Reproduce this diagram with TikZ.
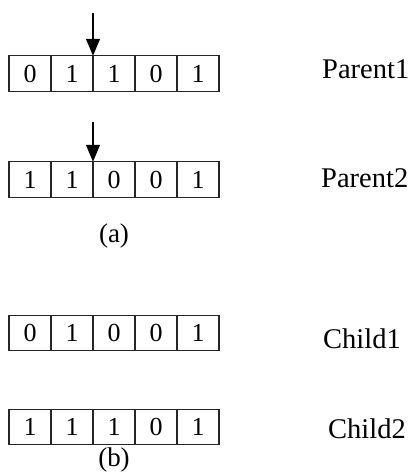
\documentclass[tikz,border=0pt]{standalone}
\usepackage{fontspec}
\setmainfont{Liberation Serif}
\usetikzlibrary{arrows.meta}
\begin{document}
\begin{tikzpicture}[x=1pt,y=-1pt,
  cell/.style={draw=black!85,line width=1.3pt,minimum width=42pt,minimum height=35.5pt,inner sep=0pt,outer sep=0pt,anchor=west,font=\fontsize{26}{30}\selectfont},
  lbl/.style={anchor=base west,inner sep=0pt,font=\fontsize{28.5}{32}\selectfont},
  captext/.style={anchor=base,inner sep=0pt,font=\fontsize{27}{32}\selectfont},
  cut/.style={line width=1.3pt,-{Triangle[length=17pt,width=14pt]}}]
\useasboundingbox (0,0) rectangle (410,475);
% row 1
\foreach \v [count=\i] in {0,1,1,0,1}
  \node[cell] (a\i) at ({9+(\i-1)*42},73.5) {\v};
% row 2
\foreach \v [count=\i] in {1,1,0,0,1}
  \node[cell] (b\i) at ({9+(\i-1)*42},179.5) {\v};
% row 3
\foreach \v [count=\i] in {0,1,0,0,1}
  \node[cell] (c\i) at ({9+(\i-1)*42},333) {\v};
% row 4
\foreach \v [count=\i] in {1,1,1,0,1}
  \node[cell] (d\i) at ({9+(\i-1)*42},427) {\v};
% arrows
\coordinate (t1) at (93,13);
\coordinate (t2) at (93,122);
\draw[cut] (t1) -- (a2.north east);
\draw[cut] (t2) -- (b2.north east);
% labels
\node[lbl] (p1) at (322,78) {Parent1};
\node[lbl] (p2) at (321,187) {Parent2};
\node[lbl] (k1) at (323,348) {Child1};
\node[lbl] (k2) at (328,438) {Child2};
\node[captext] (la) at (114,242) {(a)};
\node[captext] (lb) at (114,466) {(b)};
\end{tikzpicture}
\end{document}
